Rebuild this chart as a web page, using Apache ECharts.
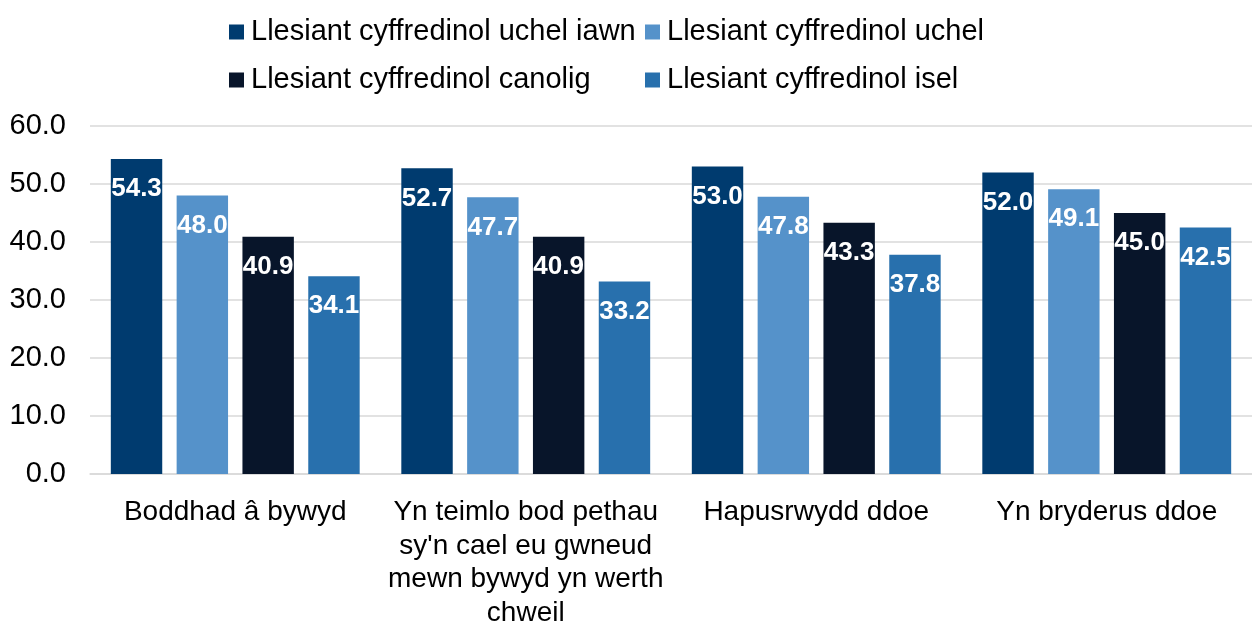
<!DOCTYPE html>
<html>
<head>
<meta charset="utf-8">
<script src="https://cdn.jsdelivr.net/npm/echarts@6/dist/echarts.min.js"></script>
<style>
html,body{margin:0;padding:0;background:#fff;}
#main{width:1252px;height:628px;}
</style>
</head>
<body>
<div id="main"></div>
<script>
const categories = [
  "Boddhad â bywyd",
  "Yn teimlo bod pethau\nsy'n cael eu gwneud\nmewn bywyd yn werth\nchweil",
  "Hapusrwydd ddoe",
  "Yn bryderus ddoe"
];
const seriesNames = [
  "Llesiant cyffredinol uchel iawn",
  "Llesiant cyffredinol uchel",
  "Llesiant cyffredinol canolig",
  "Llesiant cyffredinol isel"
];
const uchelIawn = [54.3, 52.7, 53.0, 52.0];
const uchel = [48.0, 47.7, 47.8, 49.1];
const canolig = [40.9, 40.9, 43.3, 45.0];
const isel = [34.1, 33.2, 37.8, 42.5];
const yTicks = [0, 10, 20, 30, 40, 50, 60];

const colors = ["#003B6F", "#5592CA", "#08152A", "#2870AD"];
const values = [uchelIawn, uchel, canolig, isel];
const FONT = "'Liberation Sans', Arial, sans-serif";

const chart = echarts.init(document.getElementById('main'));
const legendCommon = {
  orient: 'vertical',
  icon: 'rect',
  itemWidth: 15,
  itemHeight: 15,
  itemGap: 18,
  textStyle: { fontFamily: FONT, fontSize: 29, color: '#000', lineHeight: 30, padding: [0, 0, 0, 2] },
  selectedMode: false,
  top: 12
};
chart.setOption({
  animation: false,
  backgroundColor: '#fff',
  textStyle: { fontFamily: FONT },
  legend: [
    Object.assign({}, legendCommon, { left: 224, data: [seriesNames[0], seriesNames[2]] }),
    Object.assign({}, legendCommon, { left: 640, data: [seriesNames[1], seriesNames[3]] })
  ],
  grid: { left: 90, right: 0, top: 126, bottom: 154, containLabel: false, outerBoundsMode: 'none' },
  xAxis: {
    type: 'category',
    data: categories,
    axisLine: { lineStyle: { color: '#D9D9D9', width: 1.5 } },
    axisTick: { show: false },
    axisLabel: { fontFamily: FONT, fontSize: 28, color: '#000', lineHeight: 33.5, margin: 22, interval: 0 }
  },
  yAxis: {
    type: 'value',
    min: yTicks[0],
    max: yTicks[yTicks.length - 1],
    interval: 10,
    axisLine: { show: false },
    axisTick: { show: false },
    splitLine: { lineStyle: { color: '#D9D9D9', width: 1.5 } },
    axisLabel: { fontFamily: FONT, fontSize: 29, color: '#000', margin: 24, formatter: v => v.toFixed(1) }
  },
  series: seriesNames.map((name, i) => ({
    name: name,
    type: 'bar',
    data: values[i],
    barWidth: '17.7%',
    barGap: '28%',
    itemStyle: { color: colors[i] },
    label: {
      show: true,
      position: 'insideTop',
      distance: 17,
      fontFamily: FONT,
      fontSize: 26,
      fontWeight: 'bold',
      color: '#fff',
      formatter: p => p.value.toFixed(1)
    }
  }))
});
</script>
</body>
</html>
